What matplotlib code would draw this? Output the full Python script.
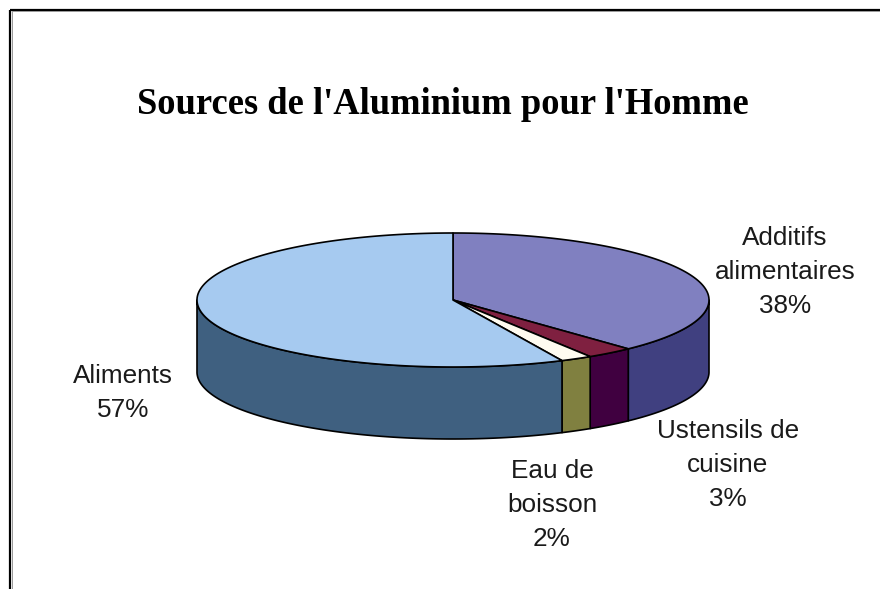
import numpy as np
import matplotlib
matplotlib.use('Agg')
import matplotlib.pyplot as plt
from matplotlib.patches import Polygon

titre = "Sources de l'Aluminium pour l'Homme"
categories = ['Additifs\nalimentaires', 'Ustensils de\ncuisine', 'Eau de\nboisson', 'Aliments']
valeurs = [38, 3, 2, 57]
couleurs = ['#8080c0', '#7f2040', '#fffbf0', '#a6caf0']
couleurs_cote = ['#404080', '#400040', '#808040', '#3f6080']
label_pos = [(785, 272), (728, 465), (552, 505), (123, 393)]

cx, cy = 453, 300
rx, ry = 256, 67
depth = 72


def ellipse_pts(a1, a2, dy=0):
    # angles in degrees, clockwise from the top
    t = np.radians(np.linspace(a1, a2, max(int(a2 - a1) * 2, 2)))
    return np.column_stack([cx + rx * np.sin(t), cy - ry * np.cos(t) + dy])


fig = plt.figure(figsize=(8.8, 5.89), dpi=100)
ax = fig.add_axes([0, 0, 1, 1])
ax.set_xlim(0, 880)
ax.set_ylim(589, 0)
ax.axis('off')

# frame of the chart, open on the right and bottom
ax.plot([10, 10], [589, 9.5], color='black', lw=1.6, solid_capstyle='butt')
ax.plot([10, 880], [9.5, 9.5], color='black', lw=1.6, solid_capstyle='butt')
ax.plot([11.5, 11.5], [589, 11], color='#999999', lw=0.7)
ax.plot([11.5, 880], [11, 11], color='#999999', lw=0.7)

bornes = np.concatenate([[0], np.cumsum(valeurs)]) / np.sum(valeurs) * 360

# side walls (only the front half, 90 to 270 deg, can be seen)
for i in range(len(valeurs)):
    a1 = max(bornes[i], 90)
    a2 = min(bornes[i + 1], 270)
    if a2 <= a1:
        continue
    haut = ellipse_pts(a1, a2)
    bas = ellipse_pts(a1, a2, depth)[::-1]
    ax.add_patch(Polygon(np.vstack([haut, bas]), closed=True, facecolor=couleurs_cote[i],
                         edgecolor='black', lw=1.2, joinstyle='round'))

# top faces
for i in range(len(valeurs)):
    pts = np.vstack([[[cx, cy]], ellipse_pts(bornes[i], bornes[i + 1])])
    ax.add_patch(Polygon(pts, closed=True, facecolor=couleurs[i], edgecolor='black',
                         lw=1.2, joinstyle='round'))

ax.text(443, 105, titre, ha='center', va='center', family='Liberation Serif',
        weight='bold', fontsize=26.3, color='black')

for i in range(len(valeurs)):
    ax.text(label_pos[i][0], label_pos[i][1], '%s\n%d%%' % (categories[i], valeurs[i]),
            ha='center', va='center', family='Liberation Sans', fontsize=18.8,
            color='#1a1a1a', linespacing=1.52, multialignment='center')

fig.savefig('out.png', dpi=100)
